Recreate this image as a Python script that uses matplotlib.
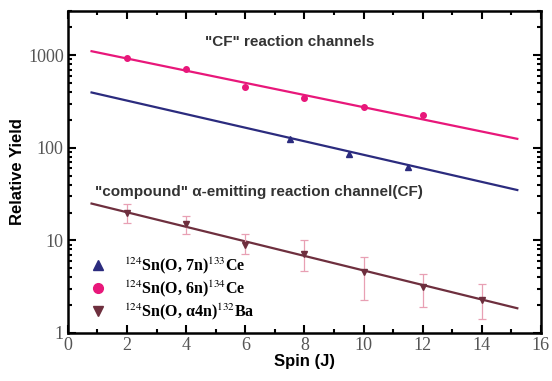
import numpy as np
import matplotlib
matplotlib.use("Agg")
import matplotlib.pyplot as plt
from matplotlib.lines import Line2D
from matplotlib.ticker import LogLocator, NullFormatter, MultipleLocator

# --- data ---
spin_7n = [7.5, 9.5, 11.5]
yield_7n = [125, 86, 62]

spin_6n = [2, 4, 6, 8, 10, 12]
yield_6n = [927, 705, 455, 341, 279, 225]

spin_a4n = [2, 4, 6, 8, 10, 12, 14]
yield_a4n = [19.6, 14.9, 9.0, 7.2, 4.6, 3.1, 2.3]
err_lo_a4n = [4.3, 3.3, 1.8, 2.5, 2.3, 1.2, 0.9]
err_hi_a4n = [5.0, 3.3, 2.6, 2.8, 2.1, 1.2, 1.1]

fit_x = [0.8, 15.2]
fit_7n = [396, 35]
fit_6n = [1105, 125]
fit_a4n = [25, 1.85]

labels = [r"$^{124}$Sn(O, 7n)$^{133}$Ce",
          r"$^{124}$Sn(O, 6n)$^{134}$Ce",
          r"$^{124}$Sn(O, α4n)$^{132}$Ba"]

c_blue = "#2b2b7e"
c_pink = "#e8177a"
c_brown = "#6e2f3e"
c_err = "#e8a0b4"

plt.rcParams["mathtext.fontset"] = "stix"

fig = plt.figure(figsize=(5.52, 3.81), dpi=100)
ax = fig.add_axes([0.123, 0.126, 0.857, 0.845])

ax.plot(fit_x, fit_6n, color=c_pink, lw=1.6)
ax.plot(fit_x, fit_7n, color=c_blue, lw=1.6)
ax.plot(fit_x, fit_a4n, color=c_brown, lw=1.6)

ax.errorbar(spin_a4n, yield_a4n, yerr=[err_lo_a4n, err_hi_a4n], fmt="none",
            ecolor=c_err, elinewidth=0.9, capsize=3, capthick=0.9)
ax.plot(spin_6n, yield_6n, "o", color=c_pink, ms=4)
ax.plot(spin_7n, yield_7n, "^", color=c_blue, ms=4)
ax.plot(spin_a4n, yield_a4n, "v", color=c_brown, ms=4)

ax.set_yscale("log")
ax.set_xlim(0, 16)
ax.set_ylim(1, 3000)
ax.xaxis.set_major_locator(MultipleLocator(2))
ax.xaxis.set_minor_locator(MultipleLocator(1))
ax.yaxis.set_minor_locator(LogLocator(base=10, subs=np.arange(2, 10)))
ax.yaxis.set_minor_formatter(NullFormatter())
ax.set_yticks([1, 10, 100, 1000])
ax.set_yticklabels(["1", "10", "100", "1000"])

ax.tick_params(which="both", direction="in", top=True, right=True, width=1.5)
ax.tick_params(which="major", length=6, labelsize=13, pad=3)
ax.tick_params(which="minor", length=3)
for lab in ax.get_xticklabels() + ax.get_yticklabels():
    lab.set_family("Liberation Serif")
    lab.set_color("#555555")
for s in ax.spines.values():
    s.set_linewidth(1.8)

ax.set_xlabel("Spin (J)", fontsize=12, fontweight="bold",
              family="Liberation Sans", labelpad=0)
ax.set_ylabel("Relative Yield", fontsize=12, fontweight="bold",
              family="Liberation Sans", labelpad=2)

ax.text(7.5, 1400, '"CF" reaction channels', fontsize=11, fontweight="bold",
        family="Liberation Sans", color="#333333", ha="center", va="center")
ax.text(0.9, 33, '"compound" α-emitting reaction channel(CF)',
        fontsize=11, fontweight="bold", family="Liberation Sans",
        color="#333333", va="center")

handles = [Line2D([], [], ls="none", marker="^", color=c_blue, ms=7),
           Line2D([], [], ls="none", marker="o", color=c_pink, ms=7),
           Line2D([], [], ls="none", marker="v", color=c_brown, ms=7)]
ax.legend(handles, labels, loc="lower left", frameon=False,
          bbox_to_anchor=(0.0, -0.01), handletextpad=0.6, labelspacing=0.15,
          prop={"family": "Liberation Serif", "weight": "bold", "size": 11.5})

fig.savefig("out.png", dpi=100)
